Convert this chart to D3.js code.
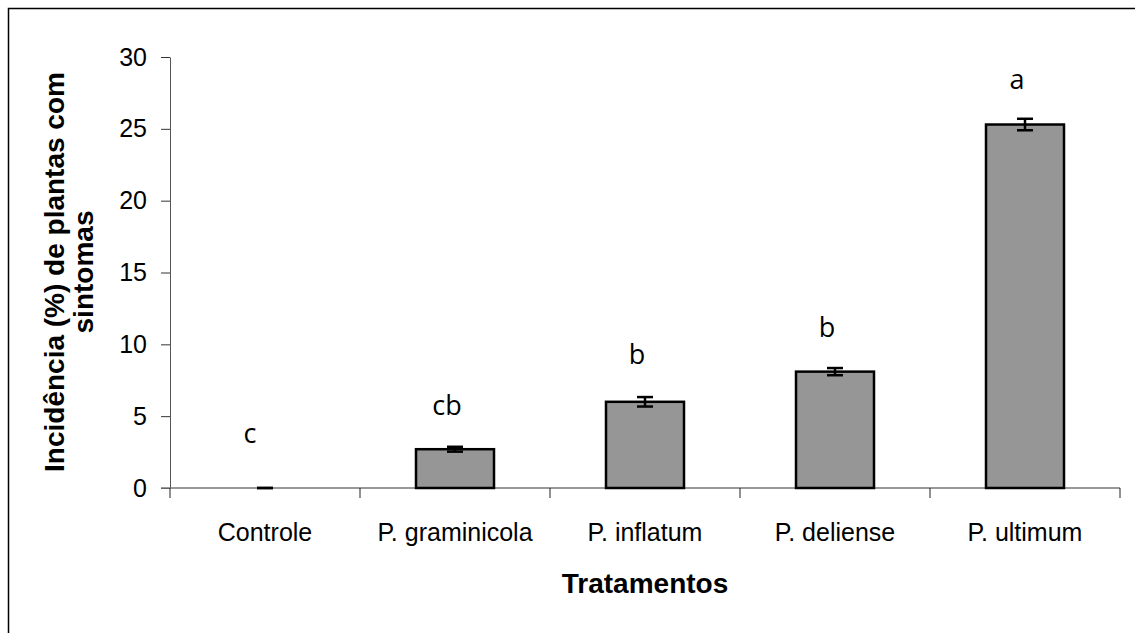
<!DOCTYPE html>
<html lang="pt">
<head>
<meta charset="utf-8">
<title>Incidência por tratamento</title>
<script src="https://d3js.org/d3.v7.min.js"></script>
<style>
  body { margin: 0; background: #fff; }
  svg text { font-family: "Liberation Sans", Arial, sans-serif; }
</style>
</head>
<body>
<script>
// data
var tratamentos = ["Controle", "P. graminicola", "P. inflatum", "P. deliense", "P. ultimum"];
var incidencia = [0, 2.7, 6.0, 8.1, 25.3];
var erro = [0, 0.17, 0.33, 0.25, 0.4];
var letras = ["c", "cb", "b", "b", "a"];
var letraY = [3.1, 5.1, 8.6, 10.5, 27.8];
var yTicks = [0, 5, 10, 15, 20, 25, 30];

var w = 1135, h = 633;

var svg = d3.select("body").append("svg")
  .attr("width", w)
  .attr("height", h);

// frame (only top and left edges show)
svg.append("path")
  .attr("d", "M8.5," + h + "V8.5H" + w)
  .attr("fill", "none")
  .attr("stroke", "#000")
  .attr("stroke-width", 1.5);

var x = d3.scaleBand().domain(tratamentos).range([170, 1120]).padding(0);
var y = d3.scaleLinear().domain([0, 30]).range([488, 57]);
var barW = 78;

// y axis
var yAxis = svg.append("g")
  .attr("transform", "translate(170,0)")
  .call(d3.axisLeft(y).tickValues(yTicks).tickSize(9).tickPadding(14).tickSizeOuter(0));
yAxis.select(".domain").attr("stroke", "#555");
yAxis.selectAll(".tick line").attr("stroke", "#333");
yAxis.selectAll("text").attr("font-size", 25).attr("fill", "#000")
  .attr("font-family", "'Liberation Sans', Arial, sans-serif");

// x axis line + boundary ticks
svg.append("line")
  .attr("x1", 161).attr("x2", 1120)
  .attr("y1", y(0)).attr("y2", y(0))
  .attr("stroke", "#777").attr("stroke-width", 1.5);

var bounds = tratamentos.map(function(d) { return x(d); }).concat([x.range()[1]]);
svg.selectAll(".xtick").data(bounds).enter().append("line")
  .attr("x1", function(d) { return d; }).attr("x2", function(d) { return d; })
  .attr("y1", y(0)).attr("y2", y(0) + 10)
  .attr("stroke", "#222");

svg.selectAll(".xlab").data(tratamentos).enter().append("text")
  .attr("x", function(d) { return x(d) + x.bandwidth() / 2; })
  .attr("y", 541)
  .attr("text-anchor", "middle")
  .attr("font-size", 25)
  .text(function(d) { return d; });

// bars
svg.selectAll(".bar").data(incidencia).enter().append("rect")
  .attr("x", function(d, i) { return x(tratamentos[i]) + x.bandwidth() / 2 - barW / 2; })
  .attr("y", function(d) { return y(d); })
  .attr("width", barW)
  .attr("height", function(d) { return y(0) - y(d); })
  .attr("fill", "#969696")
  .attr("stroke", function(d) { return d > 0 ? "#000" : "none"; })
  .attr("stroke-width", 2.5);

// error bars
var eb = svg.selectAll(".err").data(incidencia).enter().append("g")
  .attr("stroke", "#000").attr("stroke-width", 2.5);
eb.append("line")
  .attr("x1", function(d, i) { return x(tratamentos[i]) + x.bandwidth() / 2; })
  .attr("x2", function(d, i) { return x(tratamentos[i]) + x.bandwidth() / 2; })
  .attr("y1", function(d, i) { return y(d + erro[i]); })
  .attr("y2", function(d, i) { return y(d - erro[i]); });
eb.selectAll(".cap").data(function(d, i) {
    return [{ v: d + erro[i], i: i }, { v: Math.max(0, d - erro[i]), i: i }];
  }).enter().append("line")
  .attr("x1", function(d) { return x(tratamentos[d.i]) + x.bandwidth() / 2 - 8; })
  .attr("x2", function(d) { return x(tratamentos[d.i]) + x.bandwidth() / 2 + 8; })
  .attr("y1", function(d) { return y(d.v); })
  .attr("y2", function(d) { return y(d.v); });

// significance letters
svg.selectAll(".letra").data(letras).enter().append("text")
  .attr("x", function(d, i) { return x(tratamentos[i]) + x.bandwidth() / 2 - (i === 0 ? 15 : 8); })
  .attr("y", function(d, i) { return y(letraY[i]); })
  .attr("text-anchor", "middle")
  .attr("font-size", 27)
  .style("font-family", "'Open Sans', sans-serif")
  .text(function(d) { return d; });

// axis titles
svg.append("text")
  .attr("x", 645).attr("y", 593)
  .attr("text-anchor", "middle")
  .attr("font-size", 28).attr("font-weight", "bold")
  .text("Tratamentos");

var yt = svg.append("text")
  .attr("transform", "translate(64,272) rotate(-90)")
  .attr("text-anchor", "middle")
  .attr("font-size", 28).attr("font-weight", "bold");
yt.append("tspan").attr("x", 0).attr("y", 0).text("Incidência (%) de plantas com");
yt.append("tspan").attr("x", 0).attr("y", 29).text("sintomas");
</script>
</body>
</html>
